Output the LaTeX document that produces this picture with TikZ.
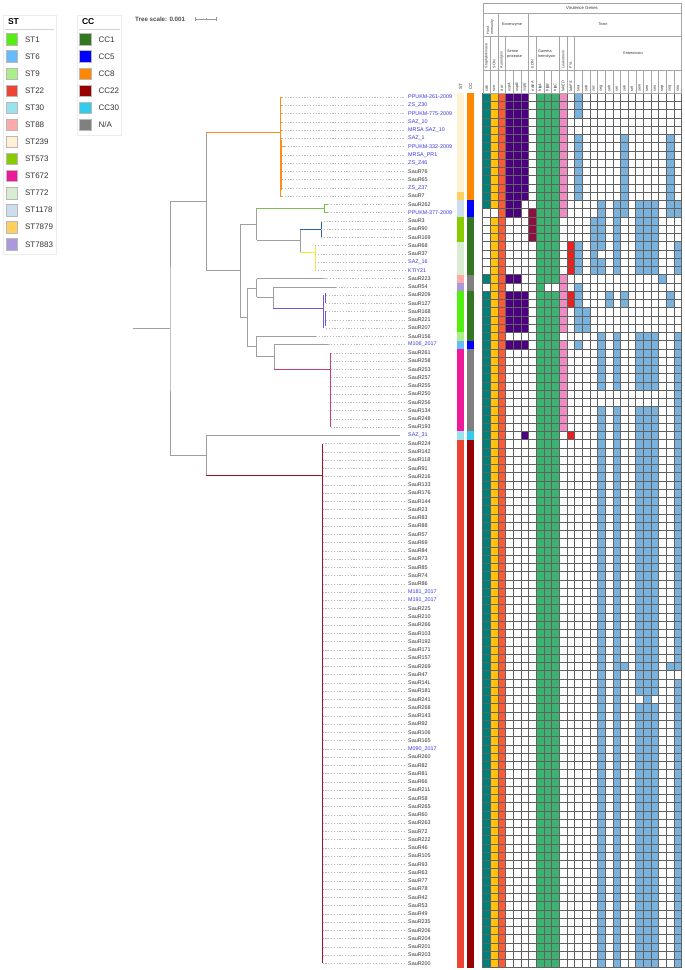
\documentclass[tikz,border=0pt]{standalone}
\usepackage{fontspec}
\setmainfont{Liberation Sans}
\definecolor{st1}{HTML}{55EE11}
\definecolor{st6}{HTML}{66BBFF}
\definecolor{st9}{HTML}{AAEE88}
\definecolor{st22}{HTML}{EE4433}
\definecolor{st30}{HTML}{99E2EE}
\definecolor{st88}{HTML}{FFAAAA}
\definecolor{st239}{HTML}{FFF2D2}
\definecolor{st573}{HTML}{88CC00}
\definecolor{st672}{HTML}{EE1A99}
\definecolor{st772}{HTML}{D8ECD2}
\definecolor{st1178}{HTML}{CCDDEE}
\definecolor{st7879}{HTML}{FFD060}
\definecolor{st7883}{HTML}{AA99DD}
\definecolor{cc1}{HTML}{337722}
\definecolor{cc5}{HTML}{0000FF}
\definecolor{cc8}{HTML}{FF8800}
\definecolor{cc22}{HTML}{990000}
\definecolor{cc30}{HTML}{33CCEE}
\definecolor{ccna}{HTML}{808080}
\definecolor{cSak}{HTML}{00807A}
\definecolor{cScn}{HTML}{FFC20E}
\definecolor{cAur}{HTML}{FF5A36}
\definecolor{cSsp}{HTML}{4B0082}
\definecolor{cEdin}{HTML}{8C1040}
\definecolor{cHlg}{HTML}{3CB371}
\definecolor{cLuk}{HTML}{F08CC4}
\definecolor{cPvl}{HTML}{E82020}
\definecolor{cEnt}{HTML}{7AB2DE}
\definecolor{tOr}{HTML}{FF8C1A}
\definecolor{tGr}{HTML}{7CC050}
\definecolor{tBl}{HTML}{2A64A8}
\definecolor{tYe}{HTML}{EEEE30}
\definecolor{tPu}{HTML}{7755CC}
\definecolor{tMa}{HTML}{C83C78}
\definecolor{tRe}{HTML}{A01020}
\definecolor{lblue}{HTML}{3A3AE0}
\definecolor{lblack}{HTML}{333333}
\newcommand{\hm}[4]{\fill[#4] ({482.7+#1*7.65},{93+(#2-1)*8.25}) rectangle ({482.7+(#1+1)*7.65},{93+#3*8.25});}
\begin{document}
\begin{tikzpicture}[x=1pt,y=-1pt,
  legbox/.style={draw=gray!15,line width=0.6},
  legtxt/.style={anchor=west,text=black!80,font=\fontsize{8}{9}\selectfont},
  leghd/.style={anchor=west,font=\bfseries\fontsize{8.5}{9}\selectfont},
  br/.style={draw=gray!75,line width=0.8},
  lead/.style={draw=gray!55,line width=0.35,dash pattern=on 1.2pt off 1.6pt},
  lbl/.style={anchor=west,inner sep=0pt,font=\fontsize{5.4}{6}\selectfont},
  hdr/.style={draw=gray!70,line width=0.4},
  htxt/.style={inner sep=0pt,text=black!80,font=\fontsize{4.3}{4.8}\selectfont},
  rtxt/.style={inner sep=0pt,text=black!80,rotate=90,anchor=west,font=\fontsize{3.6}{4}\selectfont},
  gtxt/.style={inner sep=0pt,text=black!85,rotate=90,anchor=west,font=\itshape\fontsize{3.8}{4}\selectfont},
  gridc/.style={draw=black!62,line width=0.45}]
\useasboundingbox (0,0) rectangle (685,970);
\fill[white] (0,0) rectangle (685,970);

% ---------- legends ----------
\draw[legbox] (3.3,15) rectangle (56,254);
\node[leghd] at (4.5,22) {ST};
\draw[gray!35,line width=1.2] (5,29.5) -- (54,29.5);
\foreach \c/\t [count=\i from 0] in {st1/ST1,st6/ST6,st9/ST9,st22/ST22,st30/ST30,st88/ST88,st239/ST239,st573/ST573,st672/ST672,st772/ST772,st1178/ST1178,st7879/ST7879,st7883/ST7883}{
  \fill[\c,draw=gray!55,line width=0.4] (6,{39.3+17.08*\i-5.7}) rectangle (17.4,{39.3+17.08*\i+5.7});
  \node[legtxt] (ls\i) at (21.5,{39.3+17.08*\i}) {\t};
}
\draw[legbox] (77,15) rectangle (121.7,135);
\node[leghd] at (78.5,22) {CC};
\draw[gray!35,line width=1.2] (79,29.5) -- (119.5,29.5);
\foreach \c/\t [count=\i from 0] in {cc1/CC1,cc5/CC5,cc8/CC8,cc22/CC22,cc30/CC30,ccna/N\slash A}{
  \fill[\c,draw=gray!55,line width=0.4] (79.5,{39.3+17.08*\i-5.7}) rectangle (91,{39.3+17.08*\i+5.7});
  \node[legtxt] (lc\i) at (95,{39.3+17.08*\i}) {\t};
}

% ---------- tree scale ----------
\node[anchor=west,inner sep=0pt,text=black!70,font=\bfseries\fontsize{6.2}{7}\selectfont] (ts) at (135,19) {Tree scale: 0.001};
\draw[gray!80,line width=0.5] (195,19) -- (216.7,19);
\draw[gray!80,line width=0.5] (195,17.3) -- (195,20.7) (216.7,17.3) -- (216.7,20.7) (205.8,18.2) -- (205.8,19.8);

% ---------- tree ----------
\coordinate (R) at (170,328.3);
\coordinate (A) at (206,201.5);
\coordinate (B) at (206,455.2);
\draw[br] (133,328.3) -- (R);
\draw[br] (A) -| (R) |- (B);
% clade A
\draw[br] (206,132) -- (206,270.7);
\draw[tOr,line width=0.8] (206,132) -- (280,132);
\draw[tOr,line width=1] (280,97.1) -- (280,196.1);
\foreach \r in {1,...,13}{\draw[tOr,line width=0.6] (280,{97.125+(\r-1)*8.25}) -- (282,{97.125+(\r-1)*8.25});}
\draw[tOr,line width=0.8] (280,146.6) -- (285,146.6);
\draw[tOr,line width=0.6] (281.5,140) -- (281.5,190);
% C
\draw[br] (206,270.7) -- (240,270.7);
\draw[br] (240,224.3) -- (240,317.3);
\draw[br] (240,224.3) -- (256.7,224.3);
\draw[br] (256.7,208.3) -- (256.7,240);
\draw[tGr,line width=0.8] (256.7,208.3) -- (324,208.3);
\draw[tGr,line width=0.8] (324,204.4) -- (324,212.6);
\draw[tGr,line width=0.8] (324,204.4) -- (328,204.4) (324,212.6) -- (328,212.6);
\draw[br] (256.7,240) -- (300,240);
\draw[br] (300,229) -- (300,252.3);
\draw[tBl,line width=0.8] (300,229) -- (321,229);
\draw[tBl,line width=0.8] (321,220.9) -- (321,237.4);
\draw[tYe,line width=0.8] (300,252.3) -- (315,252.3);
\draw[tYe,line width=0.8] (315,245.6) -- (315,270.4);
% F
\draw[br] (240,317.3) -- (247.7,317.3);
\draw[br] (247.7,288.3) -- (247.7,346.7);
\draw[br] (247.7,288.3) -- (256.7,288.3);
\draw[br] (256.7,278.6) -- (256.7,297.3);
\draw[br] (256.7,278.6) -- (324.3,278.6);
\draw[br] (256.7,297.3) -- (273,297.3);
\draw[br] (273,286.9) -- (273,308.3);
\draw[br] (273,286.9) -- (335.7,286.9);
\draw[tPu,line width=0.8] (273,308.3) -- (323.5,308.3);
\draw[tPu,line width=0.8] (323.5,295.1) -- (323.5,328.1);
\draw[tPu,line width=0.8] (325.5,293) -- (325.5,303) (325.5,311) -- (325.5,326);
\draw[br] (247.7,346.7) -- (256.7,346.7);
\draw[br] (256.7,336.4) -- (256.7,356.7);
\draw[br] (256.7,336.4) -- (316,336.4);
\draw[br] (256.7,356.7) -- (274,356.7);
\draw[br] (274,344.6) -- (274,369.3);
\draw[br] (274,344.6) -- (328.3,344.6);
\draw[tMa,line width=0.8] (274,369.3) -- (330.7,369.3);
\draw[tMa,line width=0.8] (330.7,352.9) -- (330.7,427.1);
% clade B
\draw[br] (206,435.4) -- (206,475);
\draw[br] (206,435.4) -- (400,435.4);
\draw[tRe,line width=0.8] (206,475) -- (322,475);
\draw[tRe,line width=0.8] (322,443.6) -- (322,963.4);

% ---------- leaders ----------
\foreach \a/\b/\x in {1/6/282,7/7/285,8/13/282,14/15/328,16/18/321,19/22/315,23/23/324.3,24/24/335.7,25/29/326,30/30/316,31/31/328.3,32/41/330.7,43/106/322.5}{
  \foreach \r in {\a,...,\b}{\draw[lead] (\x,{97.125+(\r-1)*8.25}) -- (405,{97.125+(\r-1)*8.25});}
}

% ---------- labels ----------
\foreach \n/\t [count=\r] in {PPUKM-261-2009/lblue,ZS\_Z30/lblue,PPUKM-775-2009/lblue,SAZ\_10/lblue,MRSA SAZ\_10/lblue,SAZ\_1/lblue,PPUKM-332-2009/lblue,MRSA\_PR1/lblue,ZS\_Z46/lblue,SauR76/lblack,SauR65/lblack,ZS\_Z37/lblue,SauR7/lblack,SauR262/lblack,PPUKM-377-2009/lblue,SauR3/lblack,SauR90/lblack,SauR169/lblack,SauR68/lblack,SauR37/lblack,SAZ\_16/lblue,KTIY21/lblue,SauR223/lblack,SauR54/lblack,SauR209/lblack,SauR127/lblack,SauR168/lblack,SauR221/lblack,SauR207/lblack,SauR156/lblack,M106\_2017/lblue,SauR261/lblack,SauR258/lblack,SauR253/lblack,SauR257/lblack,SauR255/lblack,SauR250/lblack,SauR256/lblack,SauR134/lblack,SauR248/lblack,SauR193/lblack,SAZ\_31/lblue,SauR224/lblack,SauR142/lblack,SauR118/lblack,SauR91/lblack,SauR216/lblack,SauR133/lblack,SauR176/lblack,SauR144/lblack,SauR23/lblack,SauR83/lblack,SauR88/lblack,SauR57/lblack,SauR69/lblack,SauR84/lblack,SauR73/lblack,SauR85/lblack,SauR74/lblack,SauR86/lblack,M181\_2017/lblue,M191\_2017/lblue,SauR225/lblack,SauR210/lblack,SauR266/lblack,SauR103/lblack,SauR192/lblack,SauR171/lblack,SauR157/lblack,SauR269/lblack,SauR47/lblack,SauR14L/lblack,SauR181/lblack,SauR241/lblack,SauR268/lblack,SauR143/lblack,SauR92/lblack,SauR106/lblack,SauR165/lblack,M090\_2017/lblue,SauR260/lblack,SauR82/lblack,SauR81/lblack,SauR66/lblack,SauR211/lblack,SauR58/lblack,SauR265/lblack,SauR60/lblack,SauR263/lblack,SauR72/lblack,SauR222/lblack,SauR46/lblack,SauR105/lblack,SauR93/lblack,SauR63/lblack,SauR77/lblack,SauR78/lblack,SauR42/lblack,SauR53/lblack,SauR49/lblack,SauR235/lblack,SauR206/lblack,SauR204/lblack,SauR201/lblack,SauR203/lblack,SauR200/lblack}{
  \node[lbl,text=\t] (L\r) at (408,{97.125+(\r-1)*8.25}) {\n};
}

% ---------- ST / CC strips ----------
\foreach \a/\b/\c in {1/12/st239,13/13/st7879,14/15/st1178,16/18/st573,19/22/st772,23/23/st88,24/24/st7883,25/29/st1,30/30/st9,31/31/st6,32/41/st672,42/42/st30,43/106/st22}{
  \fill[\c] (457.3,{93+(\a-1)*8.25}) rectangle (464,{93+\b*8.25});
}
\foreach \a/\b/\c in {1/13/cc8,14/15/cc5,16/22/cc1,23/24/ccna,25/30/cc1,31/31/cc5,32/41/ccna,42/42/cc30,43/106/cc22}{
  \fill[\c] (467.3,{93+(\a-1)*8.25}) rectangle (474,{93+\b*8.25});
}
\node[rtxt,font=\fontsize{4.5}{5}\selectfont] (stl) at (460.6,90) {ST};
\node[rtxt,font=\fontsize{4.5}{5}\selectfont] (ccl) at (470.6,90) {CC};

% ---------- heatmap cells ----------
\hm{0}{1}{14}{cSak} \hm{0}{23}{23}{cSak} \hm{0}{25}{106}{cSak}
\hm{1}{1}{14}{cScn} \hm{1}{16}{106}{cScn}
\hm{2}{1}{106}{cAur}
\hm{3}{1}{15}{cSsp} \hm{3}{23}{23}{cSsp} \hm{3}{25}{29}{cSsp} \hm{3}{31}{31}{cSsp}
\hm{4}{1}{15}{cSsp} \hm{4}{23}{23}{cSsp} \hm{4}{25}{29}{cSsp} \hm{4}{31}{31}{cSsp}
\hm{5}{1}{13}{cSsp} \hm{5}{25}{29}{cSsp} \hm{5}{31}{31}{cSsp} \hm{5}{42}{42}{cSsp}
\hm{6}{15}{18}{cEdin}
\hm{7}{1}{106}{cHlg}
\hm{8}{1}{23}{cHlg} \hm{8}{25}{106}{cHlg}
\hm{9}{1}{23}{cHlg} \hm{9}{25}{106}{cHlg}
\hm{10}{1}{15}{cLuk} \hm{10}{23}{29}{cLuk} \hm{10}{31}{41}{cLuk}
\hm{11}{19}{22}{cPvl} \hm{11}{25}{26}{cPvl} \hm{11}{42}{42}{cPvl}
% enterotoxins
\hm{12}{1}{3}{cEnt} \hm{12}{6}{13}{cEnt} \hm{12}{19}{22}{cEnt} \hm{12}{24}{29}{cEnt} \hm{12}{31}{31}{cEnt}
\hm{13}{27}{29}{cEnt}
\hm{14}{16}{22}{cEnt}
\hm{15}{14}{19}{cEnt} \hm{15}{21}{22}{cEnt} \hm{15}{30}{36}{cEnt} \hm{15}{39}{106}{cEnt}
\hm{16}{25}{26}{cEnt}
\hm{17}{14}{22}{cEnt} \hm{17}{30}{36}{cEnt} \hm{17}{39}{106}{cEnt}
\hm{18}{6}{15}{cEnt} \hm{18}{25}{26}{cEnt} \hm{18}{70}{70}{cEnt}
\hm{20}{14}{22}{cEnt} \hm{20}{30}{36}{cEnt} \hm{20}{39}{73}{cEnt} \hm{20}{75}{106}{cEnt}
\hm{21}{14}{22}{cEnt} \hm{21}{30}{36}{cEnt} \hm{21}{39}{106}{cEnt}
\hm{22}{14}{22}{cEnt} \hm{22}{30}{36}{cEnt} \hm{22}{39}{73}{cEnt} \hm{22}{75}{106}{cEnt}
\hm{23}{23}{23}{cEnt}
\hm{24}{6}{15}{cEnt} \hm{24}{25}{26}{cEnt} \hm{24}{70}{70}{cEnt}
\hm{25}{14}{15}{cEnt} \hm{25}{19}{22}{cEnt} \hm{25}{30}{70}{cEnt} \hm{25}{72}{106}{cEnt}

% ---------- grid ----------
\foreach \i in {0,...,106}{\draw[gridc] (482.7,{93+\i*8.25}) -- (681.6,{93+\i*8.25});}
\foreach \j in {0,...,26}{\draw[gridc] ({482.7+\j*7.65},93) -- ({482.7+\j*7.65},967.5);}

% ---------- header ----------
\draw[hdr] (482.7,3.3) rectangle (681.6,93);
\draw[hdr] (482.7,12.7) -- (681.6,12.7);
\draw[hdr] (482.7,36) -- (681.6,36);
\draw[hdr] (482.7,70) -- (681.6,70);
\foreach \j in {2,6}{\draw[hdr] ({482.7+\j*7.65},12.7) -- ({482.7+\j*7.65},36);}
\foreach \j in {1,2,3,6,7,10,11,12}{\draw[hdr] ({482.7+\j*7.65},36) -- ({482.7+\j*7.65},70);}
\foreach \j in {1,...,25}{\draw[hdr] ({482.7+\j*7.65},70) -- ({482.7+\j*7.65},93);}
\node[htxt] (hv) at (582,8) {Virulence Genes};
\node[rtxt,align=left] (hh) at (490.35,34.5) {Host\\immunity};
\node[htxt,font=\fontsize{3.8}{4.4}\selectfont] (he) at (512,24.5) {Exoenzyme};
\node[htxt,font=\fontsize{3.8}{4.4}\selectfont] (ht) at (603,24.5) {Toxin};
\node[rtxt] (h0) at (486.5,68.5) {Staphylokinase};
\node[rtxt] (h1) at (494.2,68.5) {SCIN};
\node[rtxt] (h2) at (501.8,68.5) {Aureolysin};
\node[htxt,anchor=west,align=left,font=\fontsize{3.8}{4.4}\selectfont] (hs) at (507,54) {Serine\\protease};
\node[rtxt] (h6) at (532.4,68.5) {EDIN};
\node[htxt,anchor=west,align=left,font=\fontsize{3.8}{4.4}\selectfont] (hg) at (538,54) {Gamma\\hemolysin};
\node[rtxt] (h10) at (563,68.5) {Leukotoxin};
\node[rtxt] (h11) at (570.7,68.5) {PVL};
\node[htxt,font=\fontsize{3.8}{4.4}\selectfont] (hn) at (633,53) {Enterotoxin};
\foreach \g [count=\j from 0] in {sak,scn,aur,sspA,sspB,sspE,edinA,hlgA,hlgB,hlgC,lukED,lukFS,sea,seb,sec,seg,seh,sei,sek,sel,sem,sen,seo,sep,seq,seu}{
  \node[gtxt] (g\j) at ({486.5+\j*7.65},91.3) {\g};
}
\end{tikzpicture}
\end{document}
